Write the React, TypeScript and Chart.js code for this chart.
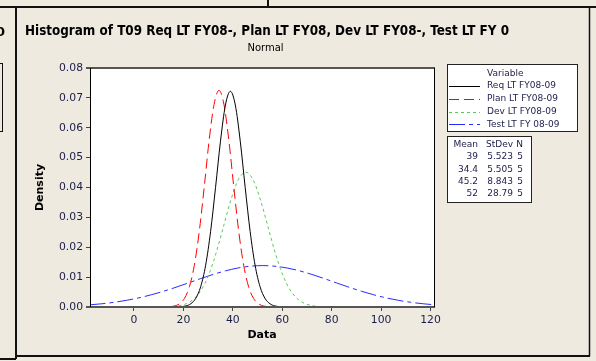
import { useEffect, useRef } from 'react';
import { Chart, registerables } from 'chart.js';
Chart.register(...registerables);

// ---- data ----
const seriesNames = ['Req LT FY08-09', 'Plan LT FY08-09', 'Dev LT FY08-09', 'Test LT FY 08-09'];
const statMeans = ['39', '34.4', '45.2', '52'];
const statStDevs = ['5.523', '5.505', '8.843', '28.79'];
const statNs = ['5', '5', '5', '5'];

const reqX = [19, 21, 23, 25, 27, 29, 31, 33, 35, 37, 39, 41, 43, 45, 47, 49, 51, 53, 55, 57, 59];
const reqY = [0.0001, 0.00036, 0.00109, 0.00291, 0.00682, 0.014, 0.0253, 0.04, 0.0555, 0.0676, 0.0722,
  0.0676, 0.0555, 0.04, 0.0253, 0.014, 0.00682, 0.00291, 0.00109, 0.00036, 0.0001];

const planX = [14.4, 16.4, 18.4, 20.4, 22.4, 24.4, 26.4, 28.4, 30.4, 32.4, 34.4, 36.4, 38.4, 40.4, 42.4, 44.4, 46.4, 48.4, 50.4, 52.4, 54.4];
const planY = [0.0001, 0.00034, 0.00106, 0.00286, 0.00673, 0.0139, 0.0252, 0.04, 0.0557, 0.0678, 0.0725,
  0.0678, 0.0557, 0.04, 0.0252, 0.0139, 0.00673, 0.00286, 0.00106, 0.00034, 0.0001];

const devX = [13.2, 15.2, 18.2, 21.2, 24.2, 27.2, 30.2, 33.2, 36.2, 39.2, 42.2, 45.2, 48.2, 51.2, 54.2, 57.2, 60.2, 63.2, 66.2, 69.2, 72.2, 75.2, 77.2];
const devY = [0.000065, 0.00014, 0.00043, 0.00113, 0.00269, 0.00568, 0.0107, 0.018, 0.0269, 0.0358, 0.0426, 0.0451,
  0.0426, 0.0358, 0.0269, 0.018, 0.0107, 0.00568, 0.00269, 0.00113, 0.00043, 0.00014, 0.000065];

const testX = [-18, -13, -8, -3, 2, 7, 12, 17, 22, 27, 32, 37, 42, 47, 52, 57, 62, 67, 72, 77, 82, 87, 92, 97, 102, 107, 112, 117, 122];
const testY = [0.00072, 0.00108, 0.00158, 0.00223, 0.00307, 0.00409, 0.00528, 0.00662, 0.00805, 0.00951, 0.01089, 0.0121, 0.01305, 0.01365, 0.01386,
  0.01365, 0.01305, 0.0121, 0.01089, 0.00951, 0.00805, 0.00662, 0.00528, 0.00409, 0.00307, 0.00223, 0.00158, 0.00108, 0.00072];

const xTicks = [0, 20, 40, 60, 80, 100, 120];
const yTicks = [0, 0.01, 0.02, 0.03, 0.04, 0.05, 0.06, 0.07, 0.08];

const titleText = 'Histogram of T09 Req LT FY08-, Plan LT FY08, Dev LT FY08-, Test LT FY 0';
const subtitleText = 'Normal';
const legendTitle = 'Variable';
const statHeaders = ['Mean', 'StDev', 'N'];

// ---- styles ----
const BG = '#EEEAE0';
const FONT = '"DejaVu Sans", sans-serif';
const TITLE_FONT = '"DejaVu Sans Condensed", "DejaVu Sans", sans-serif';
const TICK_COLOR = '#1c1c48';
const colors = ['#000000', '#ff0000', '#5cc85c', '#2a2aff'];
const dashes: number[][] = [[], [10, 5], [3, 3], [16, 4, 4, 4]];

const decor = {
  id: 'decor',
  beforeDraw(chart: any) {
    const ctx = chart.ctx as CanvasRenderingContext2D;
    const { width, height, chartArea } = chart;
    ctx.save();
    ctx.fillStyle = BG;
    ctx.fillRect(0, 0, width, height);
    ctx.fillStyle = '#ffffff';
    ctx.fillRect(chartArea.left, chartArea.top, chartArea.right - chartArea.left, chartArea.bottom - chartArea.top);

    ctx.strokeStyle = '#111';
    ctx.lineWidth = 2;
    ctx.beginPath();
    ctx.moveTo(0, 7); ctx.lineTo(width, 7);
    ctx.moveTo(268, 0); ctx.lineTo(268, 7);
    ctx.moveTo(16, 7); ctx.lineTo(16, 359);
    ctx.moveTo(16, 356); ctx.lineTo(590, 356);
    ctx.moveTo(0, 359); ctx.lineTo(16, 359);
    ctx.stroke();
    ctx.lineWidth = 1.5;
    ctx.beginPath();
    ctx.moveTo(589.5, 7); ctx.lineTo(589.5, 356);
    ctx.stroke();
    ctx.lineWidth = 1;
    ctx.strokeRect(-5.5, 63.5, 8, 68);

    // clipped remnant of neighbouring title
    ctx.fillStyle = '#000';
    ctx.font = `bold 13px ${FONT}`;
    ctx.textBaseline = 'middle';
    ctx.textAlign = 'left';
    ctx.fillText('0', -4, 33);
    ctx.restore();
  },
  afterDraw(chart: any) {
    const ctx = chart.ctx as CanvasRenderingContext2D;
    const { left, right, top, bottom } = chart.chartArea;
    ctx.save();
    // plot frame
    ctx.strokeStyle = '#555';
    ctx.lineWidth = 2;
    ctx.beginPath();
    ctx.moveTo(left - 4, top); ctx.lineTo(right + 1, top);
    ctx.moveTo(left - 4, bottom); ctx.lineTo(right + 1, bottom);
    ctx.stroke();
    ctx.strokeStyle = '#000';
    ctx.lineWidth = 1;
    ctx.beginPath();
    ctx.moveTo(left + 0.5, top); ctx.lineTo(left + 0.5, bottom);
    ctx.moveTo(right + 0.5, top); ctx.lineTo(right + 0.5, bottom);
    ctx.stroke();

    // title
    ctx.fillStyle = '#000';
    ctx.textAlign = 'center';
    ctx.textBaseline = 'middle';
    ctx.font = `bold 12px ${TITLE_FONT}`;
    const w = ctx.measureText(titleText).width;
    const size = Math.min(13.6, (12 * 484) / w);
    ctx.font = `bold ${size.toFixed(2)}px ${TITLE_FONT}`;
    ctx.fillText(titleText, 267, 32);
    ctx.font = `10px ${FONT}`;
    ctx.fillText(subtitleText, 265.5, 48);

    // legend box
    ctx.fillStyle = '#fff';
    ctx.fillRect(447.5, 64.5, 130, 67);
    ctx.strokeStyle = '#222';
    ctx.lineWidth = 1;
    ctx.strokeRect(447.5, 64.5, 130, 67);
    ctx.font = `9px ${FONT}`;
    ctx.fillStyle = TICK_COLOR;
    ctx.textAlign = 'left';
    ctx.fillText(legendTitle, 487, 74);
    seriesNames.forEach((name, i) => {
      const y = 86 + i * 12.8;
      ctx.strokeStyle = colors[i];
      ctx.setLineDash(dashes[i]);
      ctx.beginPath();
      ctx.moveTo(449, Math.round(y) + 0.5);
      ctx.lineTo(480, Math.round(y) + 0.5);
      ctx.stroke();
      ctx.setLineDash([]);
      ctx.fillStyle = TICK_COLOR;
      ctx.fillText(name, 487, y);
    });

    // stats box
    ctx.fillStyle = '#fff';
    ctx.fillRect(447.5, 136.5, 84, 66);
    ctx.strokeStyle = '#222';
    ctx.strokeRect(447.5, 136.5, 84, 66);
    ctx.fillStyle = TICK_COLOR;
    ctx.textAlign = 'right';
    const cols = [478, 513, 523];
    statHeaders.forEach((h, j) => ctx.fillText(h, cols[j], 144.5));
    statMeans.forEach((m, i) => {
      const y = 144.5 + (i + 1) * 12.4;
      ctx.fillText(m, cols[0], y);
      ctx.fillText(statStDevs[i], cols[1], y);
      ctx.fillText(statNs[i], cols[2], y);
    });
    ctx.restore();
  },
};

export default function App() {
  const ref = useRef<HTMLCanvasElement | null>(null);
  useEffect(() => {
    if (!ref.current) return;
    const mk = (xs: number[], ys: number[]) => xs.map((x, i) => ({ x, y: ys[i] }));
    const seriesData = [mk(reqX, reqY), mk(planX, planY), mk(devX, devY), mk(testX, testY)];
    const chart = new Chart(ref.current, {
      type: 'line',
      data: {
        datasets: seriesNames.map((name, i) => ({
          label: name,
          data: seriesData[i],
          borderColor: colors[i],
          borderWidth: 1,
          borderDash: dashes[i],
          pointRadius: 0,
          fill: false,
          cubicInterpolationMode: 'monotone' as const,
        })),
      },
      options: {
        animation: false,
        responsive: false,
        events: [],
        layout: { padding: { left: 30, top: 68, right: 162, bottom: 0 } },
        plugins: { legend: { display: false }, tooltip: { enabled: false }, title: { display: false } },
        scales: {
          x: {
            type: 'linear',
            min: -17.8,
            max: 121.4,
            afterBuildTicks: (s: any) => { s.ticks = xTicks.map((v) => ({ value: v })); },
            afterFit: (s: any) => { s.height = 54; },
            grid: { drawOnChartArea: false, drawTicks: true, tickLength: 4, color: '#444' },
            border: { display: false },
            ticks: { padding: 3, color: TICK_COLOR, font: { family: FONT, size: 10.8 }, maxRotation: 0 },
            title: { display: true, text: 'Data', color: '#000', font: { family: FONT, size: 11, weight: 'bold' }, padding: { top: 0, bottom: 19 } },
          },
          y: {
            type: 'linear',
            min: 0,
            max: 0.08,
            afterBuildTicks: (s: any) => { s.ticks = yTicks.map((v) => ({ value: v })); },
            afterFit: (s: any) => { s.width = 60; },
            grid: { drawOnChartArea: false, drawTicks: true, tickLength: 4, color: '#444' },
            border: { display: false },
            ticks: { padding: 3, color: TICK_COLOR, font: { family: FONT, size: 10.8 }, callback: (v: any) => Number(v).toFixed(2) },
            title: { display: true, text: 'Density', color: '#000', font: { family: FONT, size: 11, weight: 'bold' }, padding: { top: 4, bottom: 0 } },
          },
        },
      },
      plugins: [decor],
    });
    return () => chart.destroy();
  }, []);
  return (
    <div style={{ position: 'fixed', left: 0, top: 0, width: 596, height: 361, background: BG }}>
      <canvas ref={ref} width={596} height={361} style={{ display: 'block', width: 596, height: 361 }} />
    </div>
  );
}
